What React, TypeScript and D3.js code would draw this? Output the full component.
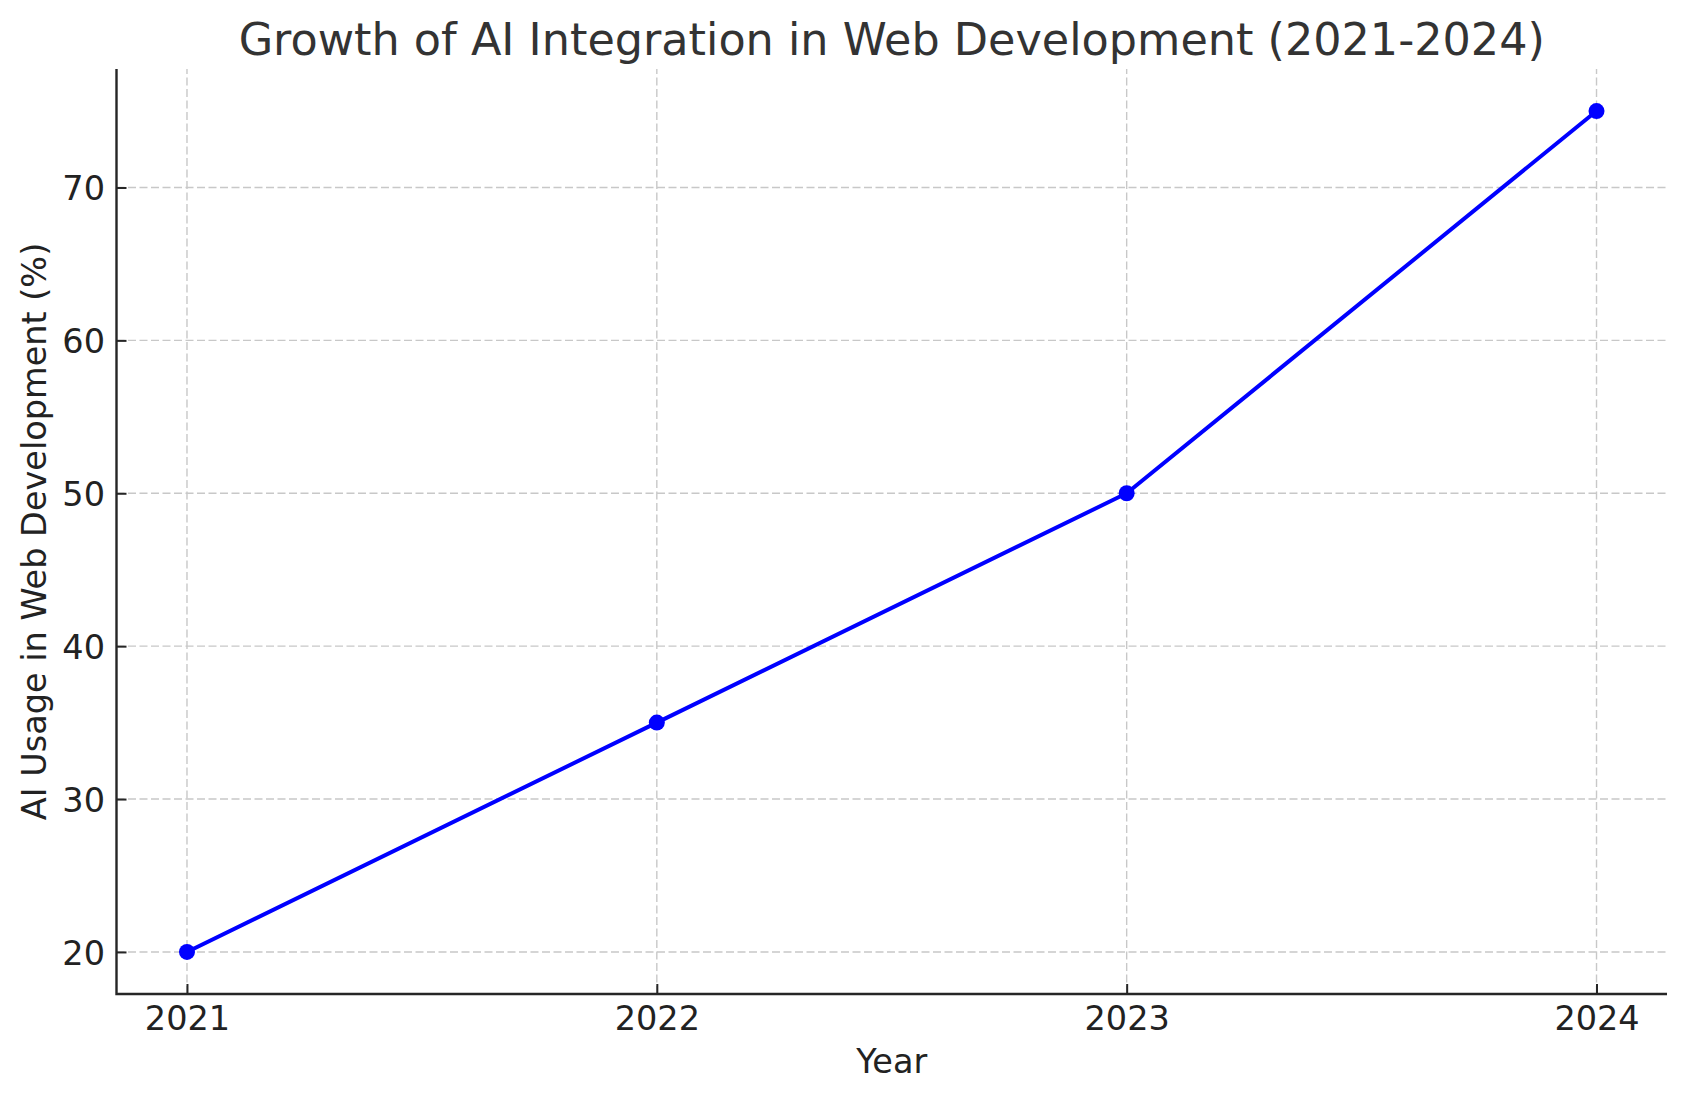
import React, { useEffect, useRef } from "react";
import * as d3 from "d3";

const years = [2021, 2022, 2023, 2024];
const usage = [20, 35, 50, 75];
const yTicks = [20, 30, 40, 50, 60, 70];

const title = "Growth of AI Integration in Web Development (2021-2024)";
const xLabel = "Year";
const yLabel = "AI Usage in Web Development (%)";

const App: React.FC = () => {
  const ref = useRef<SVGSVGElement>(null);
  const width = 1686;
  const height = 1101;
  const margin = { top: 69, right: 19, bottom: 107, left: 116.5 };
  const font = "DejaVu Sans, sans-serif";
  const tickSize = 33.5;

  useEffect(() => {
    if (!ref.current) return;
    const svg = d3.select(ref.current);
    svg.selectAll("*").remove();

    // matplotlib style 5% margins
    const xPad = (d3.max(years)! - d3.min(years)!) * 0.05;
    const yPad = (d3.max(usage)! - d3.min(usage)!) * 0.05;

    const x = d3
      .scaleLinear()
      .domain([d3.min(years)! - xPad, d3.max(years)! + xPad])
      .range([margin.left, width - margin.right]);
    const y = d3
      .scaleLinear()
      .domain([d3.min(usage)! - yPad, d3.max(usage)! + yPad])
      .range([height - margin.bottom, margin.top]);

    const x0 = margin.left;
    const x1 = width - margin.right;
    const y0 = height - margin.bottom;
    const y1 = margin.top;

    // grid
    const grid = svg.append("g");
    grid
      .selectAll(".gx")
      .data(years)
      .join("line")
      .attr("x1", (d) => x(d))
      .attr("x2", (d) => x(d))
      .attr("y1", y0)
      .attr("y2", y1)
      .attr("stroke", "#c8c8c8")
      .attr("stroke-width", 1.4)
      .attr("stroke-dasharray", "8,3.5");
    grid
      .selectAll(".gy")
      .data(yTicks)
      .join("line")
      .attr("x1", x0)
      .attr("x2", x1)
      .attr("y1", (d) => y(d))
      .attr("y2", (d) => y(d))
      .attr("stroke", "#c8c8c8")
      .attr("stroke-width", 1.4)
      .attr("stroke-dasharray", "8,3.5");

    // axes (ticks point inward)
    const xAxis = svg
      .append("g")
      .attr("transform", `translate(0,${y0})`)
      .call(
        d3
          .axisBottom(x)
          .tickValues(years)
          .tickFormat(d3.format("d"))
          .tickSize(-10)
          .tickSizeOuter(0)
      );
    const yAxis = svg
      .append("g")
      .attr("transform", `translate(${x0},0)`)
      .call(
        d3
          .axisLeft(y)
          .tickValues(yTicks)
          .tickFormat(d3.format("d"))
          .tickSize(-10)
          .tickSizeOuter(0)
      );

    [xAxis, yAxis].forEach((g) => {
      g.select(".domain").remove();
      g.selectAll(".tick line").attr("stroke", "#262626").attr("stroke-width", 2);
      g.selectAll(".tick text")
        .attr("fill", "#222")
        .attr("font-family", font)
        .attr("font-size", tickSize);
    });
    xAxis.selectAll(".tick text").attr("y", 36).attr("dy", 0);
    yAxis
      .selectAll(".tick text")
      .attr("x", -11.5)
      .attr("dy", "0.36em");

    // spines: left and bottom
    svg
      .append("path")
      .attr("d", `M${x0},${y1}V${y0}H${x1}`)
      .attr("fill", "none")
      .attr("stroke", "#262626")
      .attr("stroke-width", 2.4);

    // line + markers
    const pts = years.map((yr, i) => ({ year: yr, value: usage[i] }));
    const line = d3
      .line<{ year: number; value: number }>()
      .x((d) => x(d.year))
      .y((d) => y(d.value));

    svg
      .append("path")
      .datum(pts)
      .attr("fill", "none")
      .attr("stroke", "#0000ff")
      .attr("stroke-width", 4)
      .attr("stroke-linejoin", "round")
      .attr("d", line);

    svg
      .selectAll(".dot")
      .data(pts)
      .join("circle")
      .attr("cx", (d) => x(d.year))
      .attr("cy", (d) => y(d.value))
      .attr("r", 8)
      .attr("fill", "#0000ff");

    // labels
    svg
      .append("text")
      .attr("x", (x0 + x1) / 2)
      .attr("y", 55)
      .attr("text-anchor", "middle")
      .attr("font-family", font)
      .attr("font-size", 44.5)
      .attr("fill", "#333")
      .text(title);

    svg
      .append("text")
      .attr("x", (x0 + x1) / 2)
      .attr("y", 1073)
      .attr("text-anchor", "middle")
      .attr("font-family", font)
      .attr("font-size", tickSize)
      .attr("fill", "#222")
      .text(xLabel);

    svg
      .append("text")
      .attr("transform", `translate(46,${(y0 + y1) / 2}) rotate(-90)`)
      .attr("text-anchor", "middle")
      .attr("font-family", font)
      .attr("font-size", tickSize)
      .attr("fill", "#222")
      .text(yLabel);
  }, []);

  return (
    <svg
      ref={ref}
      width={width}
      height={height}
      viewBox={`0 0 ${width} ${height}`}
      style={{ position: "absolute", left: 0, top: 0, background: "#fff" }}
    ></svg>
  );
};

export default App;
